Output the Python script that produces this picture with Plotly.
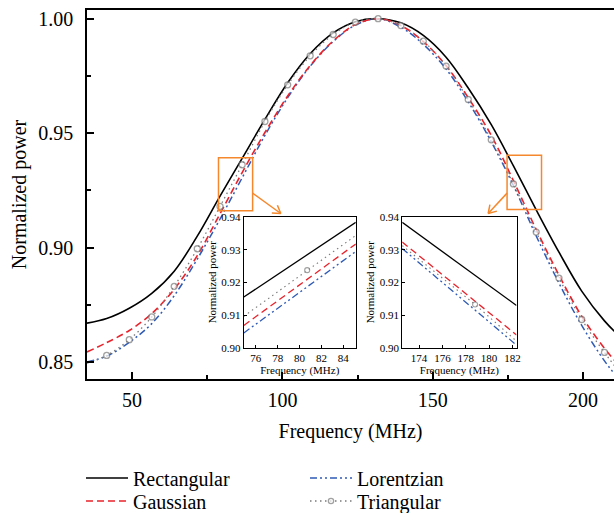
import math
import plotly.graph_objects as go

# ---------------- data ----------------
freq = [35.0, 41.55, 49.07, 56.54, 64.01, 71.68, 79.25, 86.61, 94.18, 101.75, 109.22, 116.89, 124.26,
        131.83, 139.40, 146.87, 154.44, 161.81, 169.48, 176.85, 184.42, 191.99, 199.56, 207.13, 211.0, 215.0]
rectangular = [0.8670, 0.8690, 0.8735, 0.8800, 0.8897, 0.9050, 0.9225, 0.9390, 0.9560, 0.9720,
               0.9847, 0.9938, 0.9987, 1.0000, 0.9982, 0.9927, 0.9832, 0.9697, 0.9537, 0.9357,
               0.9165, 0.8980, 0.8810, 0.8680, 0.8628, 0.8585]
gaussian = [0.8544, 0.8585, 0.8638, 0.8712, 0.8818, 0.8965, 0.9148, 0.9328, 0.9503, 0.9662,
            0.9795, 0.9903, 0.9974, 1.0000, 0.9970, 0.9900, 0.9795, 0.9655, 0.9490, 0.9292,
            0.9079, 0.8880, 0.8700, 0.8560, 0.8500, 0.8445]
lorentzian = [0.8500, 0.8526, 0.8586, 0.8668, 0.8790, 0.8950, 0.9125, 0.9305, 0.9490, 0.9655,
              0.9792, 0.9900, 0.9972, 1.0000, 0.9963, 0.9888, 0.9780, 0.9637, 0.9462, 0.9271,
              0.9051, 0.8845, 0.8660, 0.8505, 0.8440, 0.8380]
triangular = [0.8495, 0.8529, 0.8598, 0.8697, 0.8831, 0.8995, 0.9180, 0.9362, 0.9551, 0.9711,
              0.9838, 0.9931, 0.9985, 1.0000, 0.9970, 0.9902, 0.9793, 0.9647, 0.9471, 0.9278,
              0.9068, 0.8867, 0.8686, 0.8542, 0.8475, 0.8410]
tri_marker_idx = list(range(1, 24))

# inset 1 (75-85 MHz)
in1_freq = [74.9, 85.15]
in1_rect = [0.9156, 0.9384]
in1_gauss = [0.9069, 0.9318]
in1_lor = [0.9046, 0.9295]
in1_tri_freq = [74.9, 80.7, 85.15]
in1_tri = [0.9097, 0.9238, 0.9344]

# inset 2 (172.5-182.5 MHz)
in2_freq = [172.55, 182.35]
in2_rect = [0.9384, 0.9130]
in2_gauss = [0.9324, 0.9040]
in2_lor = [0.9304, 0.9009]
in2_tri_freq = [172.55, 178.8, 182.35]
in2_tri = [0.9313, 0.9133, 0.9021]

main_yticks = [0.85, 0.90, 0.95, 1.00]
main_yminor = [0.875, 0.925, 0.975]
main_xticks = [50, 100, 150, 200]
main_xminor = [75, 125, 175]
inset_yticks = [0.90, 0.91, 0.92, 0.93, 0.94]
in1_xticks = [76, 78, 80, 82, 84]
in2_xticks = [174, 176, 178, 180, 182]

# ---------------- styles / geometry ----------------
FONT = "Liberation Serif"
BLACK = "#000000"
RED = "#E8232B"
BLUE = "#2F5BB5"
GRAY = "#7A7A7A"
ORANGE = "#F5882C"
W, H = 614, 513
L, R, T, B = 87, 0, 10, 134
PW, PH = W - L - R, H - T - B
XR = [35, 210.3]
YR = [0.8426, 1.0038]

def px2paper(px, py):
    return (px - L) / PW, (H - B - py) / PH

def data2px(f, p):
    return (L + (f - XR[0]) / (XR[1] - XR[0]) * PW,
            H - B - (p - YR[0]) / (YR[1] - YR[0]) * PH)

styles = {
    "Rectangular": dict(color=BLACK, width=1.6, dash="solid"),
    "Gaussian": dict(color=RED, width=1.6, dash="7px,4px"),
    "Lorentzian": dict(color=BLUE, width=1.5, dash="7px,3px,2px,3px,2px,3px"),
    "Triangular": dict(color=GRAY, width=1.3, dash="1.5px,3.5px"),
}

fig = go.Figure()

series = [("Rectangular", rectangular, "legend"), ("Lorentzian", lorentzian, "legend"),
          ("Gaussian", gaussian, "legend2"), ("Triangular", triangular, "legend2")]
for name, vals, lg in series:
    st = styles[name]
    if name == "Triangular":
        sizes = [6 if i in tri_marker_idx else 0 for i in range(len(freq))]
        fig.add_trace(go.Scatter(
            x=freq, y=vals, name=name, mode="lines+markers", line_shape="spline", legend=lg,
            line=dict(color=st["color"], width=st["width"], dash=st["dash"]),
            marker=dict(symbol="circle", size=sizes, color="white",
                        line=dict(color=GRAY, width=1.3)),
            xaxis="x", yaxis="y"))
    else:
        fig.add_trace(go.Scatter(
            x=freq, y=vals, name=name, mode="lines", line_shape="spline", legend=lg,
            line=dict(color=st["color"], width=st["width"], dash=st["dash"]),
            xaxis="x", yaxis="y"))

def add_inset(xa, ya, f, rect, gauss, lor, tf, tri):
    for name, vals in [("Rectangular", rect), ("Gaussian", gauss), ("Lorentzian", lor)]:
        st = styles[name]
        fig.add_trace(go.Scatter(
            x=f, y=vals, mode="lines", showlegend=False,
            line=dict(color=st["color"], width=1.3, dash=st["dash"]),
            xaxis=xa, yaxis=ya))
    st = styles["Triangular"]
    sizes = [0] + [5] * (len(tf) - 2) + [0]
    fig.add_trace(go.Scatter(
        x=tf, y=tri, mode="lines+markers", showlegend=False,
        line=dict(color=st["color"], width=1.1, dash=st["dash"]),
        marker=dict(symbol="circle", size=sizes, color="white",
                    line=dict(color=GRAY, width=1.1)),
        xaxis=xa, yaxis=ya))

add_inset("x2", "y2", in1_freq, in1_rect, in1_gauss, in1_lor, in1_tri_freq, in1_tri)
add_inset("x3", "y3", in2_freq, in2_rect, in2_gauss, in2_lor, in2_tri_freq, in2_tri)

axis_common = dict(showline=True, linecolor=BLACK, showgrid=False, zeroline=False,
                   ticks="inside", tickcolor=BLACK)

IN_TOP, IN_BOT = 216.5, 348.0
in1_l, in1_b = px2paper(243.8, IN_BOT)
in1_r, in1_t = px2paper(355.8, IN_TOP)
in2_l, in2_b = px2paper(402.2, IN_BOT)
in2_r, in2_t = px2paper(516.5, IN_TOP)

inset_font = dict(family=FONT, size=11, color=BLACK)
legend_common = dict(orientation="h", xanchor="left", yanchor="middle",
                     entrywidth=167, itemwidth=42, font=dict(family=FONT, size=20),
                     bgcolor="rgba(0,0,0,0)", borderwidth=0)

fig.update_layout(
    width=W, height=H,
    margin=dict(l=L, r=R, t=T, b=B, autoexpand=False),
    paper_bgcolor="white", plot_bgcolor="white",
    font=dict(family=FONT, color=BLACK),
    xaxis=dict(**axis_common, linewidth=1.5, mirror=True, range=XR,
               tickvals=main_xticks, ticklen=7, tickwidth=1.5, ticklabelstandoff=2,
               tickfont=dict(family=FONT, size=20),
               minor=dict(tickvals=main_xminor, ticks="inside", ticklen=4, tickcolor=BLACK, tickwidth=1.5),
               title=dict(text="Frequency (MHz)", font=dict(family=FONT, size=20), standoff=14),
               domain=[0, 1]),
    yaxis=dict(**axis_common, linewidth=1.5, range=YR,
               tickvals=main_yticks, ticktext=[f"{v:.2f}" for v in main_yticks],
               ticklen=7, tickwidth=1.5, ticklabelstandoff=8,
               tickfont=dict(family=FONT, size=20),
               minor=dict(tickvals=main_yminor, ticks="inside", ticklen=4, tickcolor=BLACK, tickwidth=1.5),
               title=dict(text="Normalized power", font=dict(family=FONT, size=20), standoff=6),
               domain=[0, 1]),
    xaxis2=dict(**axis_common, linewidth=1.2, mirror=True, range=[74.9, 85.15],
                tickvals=in1_xticks, ticklen=3, tickfont=inset_font,
                title=dict(text="Frequency (MHz)", font=inset_font, standoff=0),
                domain=[in1_l, in1_r], anchor="y2"),
    yaxis2=dict(**axis_common, linewidth=1.2, mirror=True, range=[0.90, 0.9402],
                tickvals=inset_yticks, ticktext=[f"{v:.2f}" for v in inset_yticks],
                ticklen=3, tickfont=inset_font,
                title=dict(text="Normalized power", font=inset_font, standoff=2),
                domain=[in1_b, in1_t], anchor="x2"),
    xaxis3=dict(**axis_common, linewidth=1.2, mirror=True, range=[172.55, 182.35],
                tickvals=in2_xticks, ticklen=3, tickfont=inset_font,
                title=dict(text="Frequency (MHz)", font=inset_font, standoff=0),
                domain=[in2_l, in2_r], anchor="y3"),
    yaxis3=dict(**axis_common, linewidth=1.2, mirror=True, range=[0.90, 0.9402],
                tickvals=inset_yticks, ticktext=[f"{v:.2f}" for v in inset_yticks],
                ticklen=3, tickfont=inset_font,
                title=dict(text="Normalized power", font=inset_font, standoff=2),
                domain=[in2_b, in2_t], anchor="x3"),
    legend=dict(**legend_common, x=(81 - L) / PW, y=(H - B - 478) / PH),
    legend2=dict(**legend_common, x=(81 - L) / PW, y=(H - B - 501) / PH),
)

# orange zoom boxes (data regions)
box1 = dict(x0=78.74, x1=90.09, y0=0.9161, y1=0.9393)
box2 = dict(x0=174.73, x1=186.19, y0=0.9166, y1=0.9403)
for bx in (box1, box2):
    fig.add_shape(type="rect", xref="x", yref="y", **bx, line=dict(color=ORANGE, width=1.5))

def arrow(p0, p1):
    x0, y0 = p0
    x1, y1 = p1
    ang = math.atan2(y1 - y0, x1 - x0)
    hl = 9
    pts = []
    for s in (+1, -1):
        a = ang + math.pi + s * math.radians(32)
        pts.append((x1 + hl * math.cos(a), y1 + hl * math.sin(a)))
    for (ax_, ay_), (bx_, by_) in [(p0, p1), (pts[0], p1), (pts[1], p1)]:
        u0, v0 = px2paper(ax_, ay_)
        u1, v1 = px2paper(bx_, by_)
        fig.add_shape(type="line", xref="paper", yref="paper", x0=u0, y0=v0, x1=u1, y1=v1,
                      line=dict(color=ORANGE, width=1.5))

a1_start = data2px(box1["x1"], 0.9238)
a2_start = data2px(box2["x0"], 0.9238)
arrow(a1_start, (243.8 + 37, IN_TOP - 3))
arrow(a2_start, (402.2 + 86, IN_TOP - 3))

fig.write_html("out.html", config={"displayModeBar": False},
               post_script="document.body.style.margin='0px';")
